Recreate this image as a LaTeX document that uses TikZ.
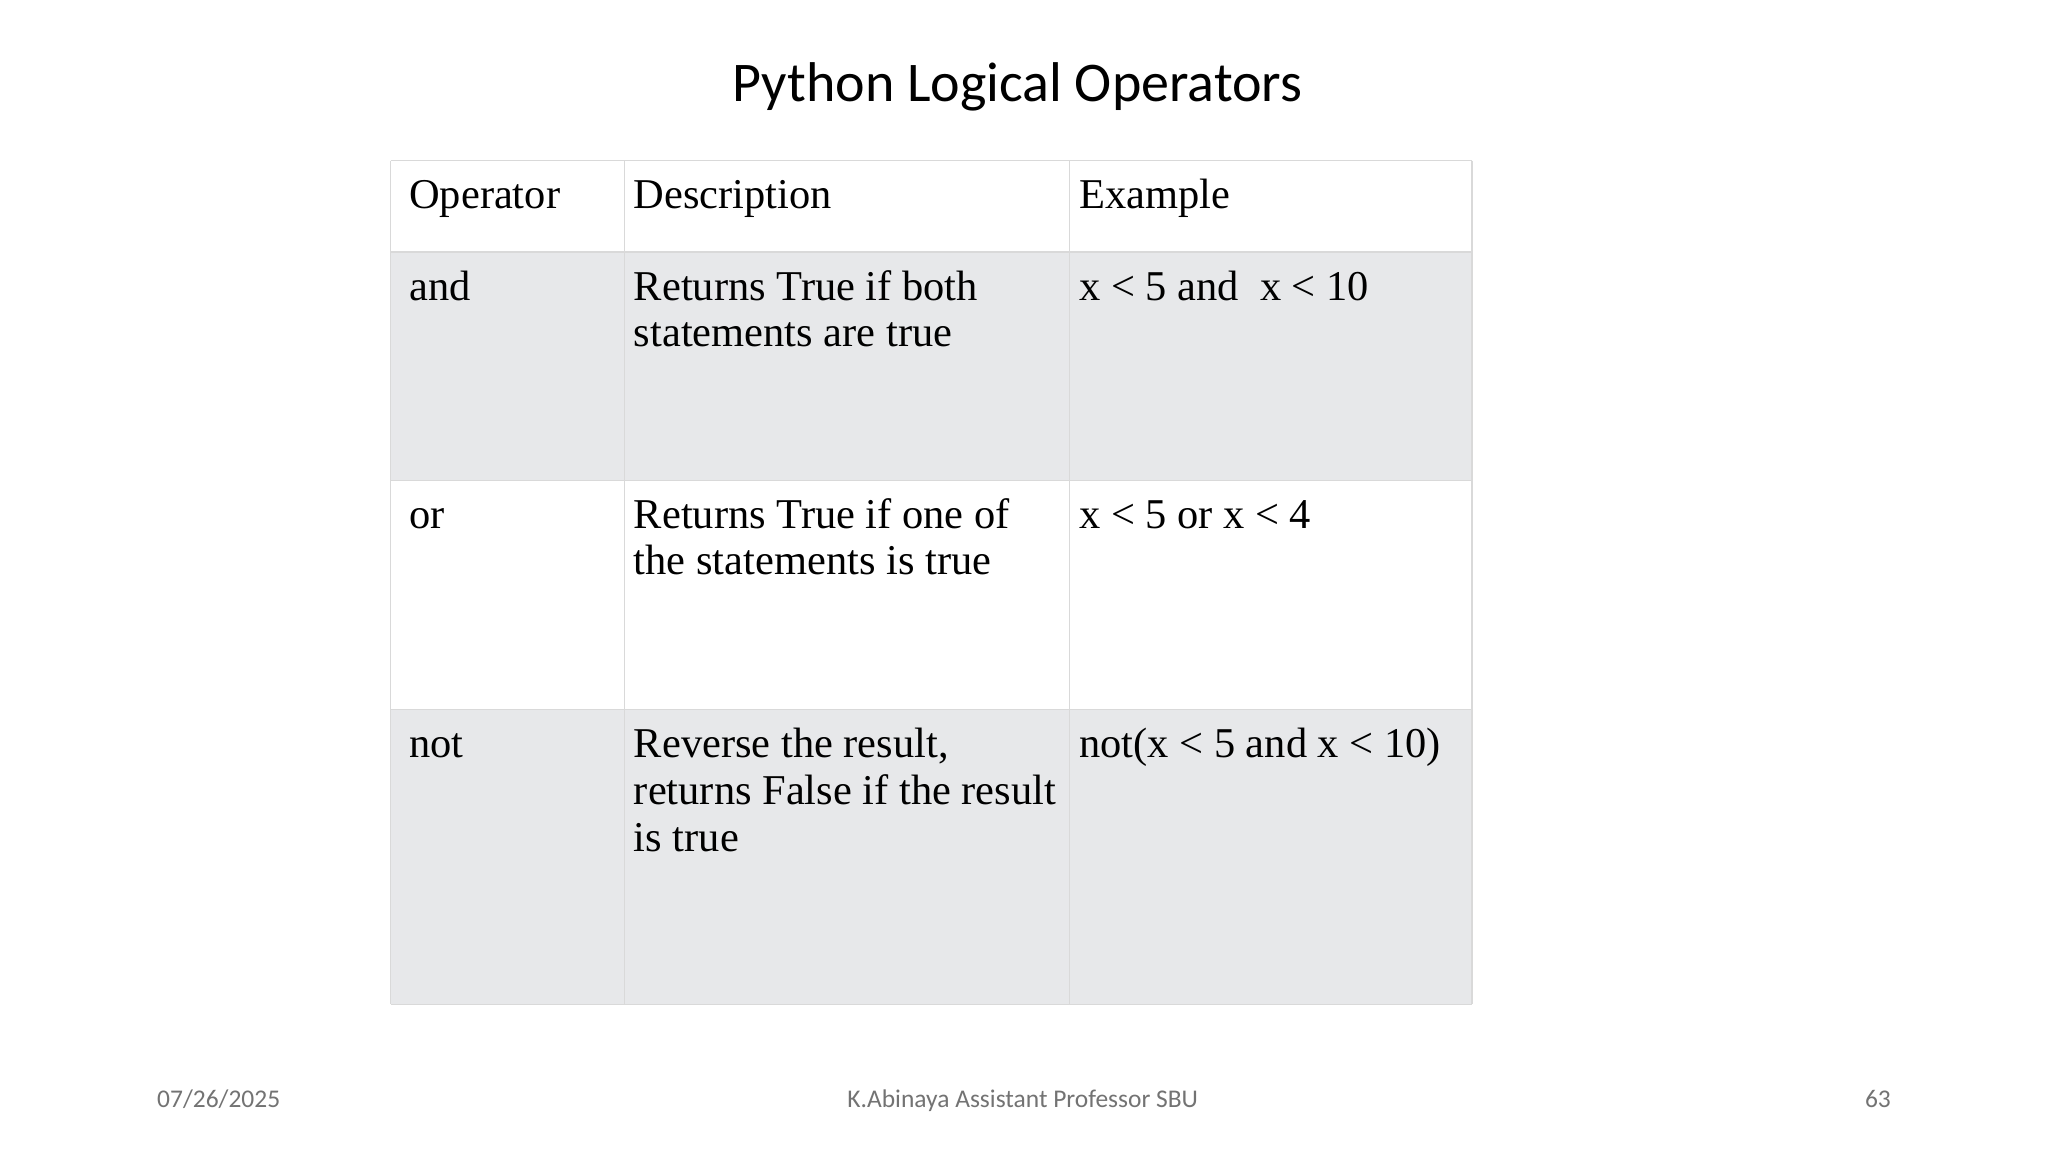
\documentclass[tikz,border=0pt]{standalone}
\usepackage{fontspec}
\setmainfont{Liberation Serif}
\newfontfamily\calfont{Carlito}
\definecolor{rowgray}{HTML}{E7E8EA}
\begin{document}
\begin{tikzpicture}[x=0.02cm,y=-0.02cm,
  cell/.style={draw=black!15,line width=0.6pt},
  tx/.style={anchor=base west,inner sep=0,font=\fontsize{18.5}{20}\selectfont},
  ft/.style={inner sep=0,anchor=base,font=\calfont\fontsize{11.1}{13}\selectfont,text=black!55}]
\useasboundingbox (0,0) rectangle (1568,882);
\fill[white] (0,0) rectangle (1568,882);
\fill[rowgray] (299,193) rectangle (1127,368);
\fill[rowgray] (299,543) rectangle (1127,769);
\foreach \y in {123,193,368,543,769} \draw[cell] (299,\y) -- (1127,\y);
\foreach \x in {299,478,819,1127} \draw[cell] (\x,123) -- (\x,769);
\node[anchor=base,inner sep=0,font=\calfont\fontsize{24.4}{28}\selectfont] (title) at (779,78) {Python Logical Operators};
\node[tx] (h1) at (313,160) {Operator};
\node[tx] (h2) at (485,160) {Description};
\node[tx] (h3) at (826,160) {Example};
\node[tx] (a1) at (313,230) {and};
\node[tx] (a2) at (485,230) {Returns True if both};
\node[tx] (a2b) at (485,265) {statements are true};
\node[tx] (a3) at (826,230) {x < 5 and~ x < 10};
\node[tx] (o1) at (313,405) {or};
\node[tx] (o2) at (485,405) {Returns True if one of};
\node[tx] (o2b) at (485,440) {the statements is true};
\node[tx] (o3) at (826,405) {x < 5 or x < 4};
\node[tx] (n1) at (313,580) {not};
\node[tx] (n2) at (485,580) {Reverse the result,};
\node[tx] (n2b) at (485,616) {returns False if the result};
\node[tx] (n2c) at (485,652) {is true};
\node[tx] (n3) at (826,580) {not(x < 5 and x < 10)};
\node[ft,anchor=base west] (d) at (120,848) {07/26/2025};
\node[ft] (au) at (783,848) {K.Abinaya Assistant Professor SBU};
\node[ft,anchor=base east] (pg) at (1448,848) {63};
\end{tikzpicture}
\end{document}
